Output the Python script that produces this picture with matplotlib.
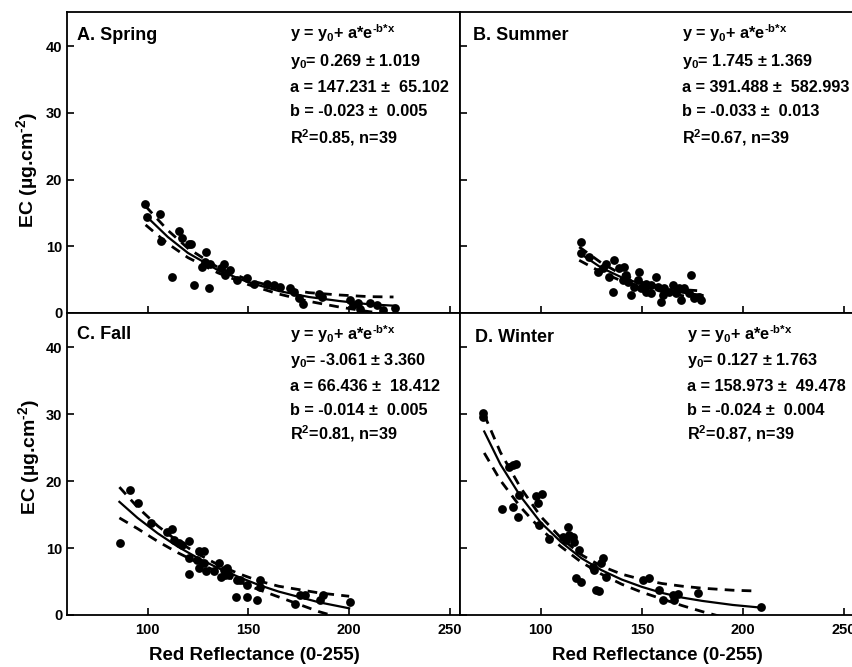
import matplotlib
matplotlib.use('Agg')
import matplotlib.pyplot as plt

plt.rcParams['font.family'] = ['Liberation Sans', 'DejaVu Sans']
plt.rcParams['font.weight'] = 'bold'
plt.rcParams['mathtext.fontset'] = 'custom'
plt.rcParams['mathtext.rm'] = 'Liberation Sans:bold'
plt.rcParams['mathtext.it'] = 'Liberation Sans:bold'
plt.rcParams['mathtext.bf'] = 'Liberation Sans:bold'
plt.rcParams['mathtext.default'] = 'regular'

# ---------------- data ----------------
spring_x = [98.6, 99.6, 106.1, 106.8, 112.3, 115.5, 117.2, 120.5, 121.6, 122.9,
            129.2, 128.7, 127.1, 130.4, 131.2, 137.8, 141.1, 138.6, 144.4, 149.4,
            152.6, 159.2, 162.5, 165.8, 170.8, 172.4, 177.3, 174.9, 185.1, 186.4,
            200.4, 202.1, 205.4, 204.5, 210.3, 213.6, 216.9, 222.7, 136.2]
spring_y = [16.3, 14.4, 14.8, 10.8, 5.4, 12.3, 11.3, 10.4, 10.3, 4.2,
            9.2, 7.7, 6.9, 3.7, 7.3, 7.3, 6.4, 5.7, 4.9, 5.2,
            4.4, 4.3, 4.2, 3.9, 3.7, 3.2, 1.3, 2.2, 2.9, 2.4,
            1.9, 1.2, 0.6, 1.5, 1.5, 1.2, 0.45, 0.7, 6.7]

summer_x = [119.9, 119.9, 124.0, 128.1, 132.3, 136.4, 135.5, 138.9, 141.3, 142.2,
            144.7, 143.0, 148.8, 147.9, 149.6, 152.1, 154.6, 157.0, 157.8, 159.5,
            161.1, 163.6, 165.2, 166.9, 169.4, 171.0, 174.4, 173.5, 176.0, 178.5,
            179.3, 152.1, 146.3, 154.6, 140.5, 130.6, 133.9, 160.3, 168.6]
summer_y = [10.7, 9.0, 8.4, 6.2, 7.4, 7.9, 3.2, 6.7, 6.9, 5.7,
            2.7, 4.7, 6.2, 4.9, 3.7, 4.4, 4.2, 5.4, 3.9, 1.7,
            3.7, 3.2, 4.2, 2.95, 1.95, 3.7, 5.7, 2.95, 2.2, 2.45,
            1.95, 3.2, 3.9, 2.95, 4.9, 6.7, 5.4, 2.7, 3.7]

fall_x = [86.3, 91.1, 95.3, 112.3, 109.8, 117.2, 120.5, 120.5, 120.5, 125.4,
          127.9, 125.4, 129.2, 127.9, 135.3, 136.2, 137.8, 139.5, 140.3, 144.4,
          146.0, 144.1, 149.4, 154.3, 155.6, 149.4, 155.9, 173.2, 175.7, 178.2,
          187.2, 200.4, 101.5, 115.5, 113.1, 124.3, 132.8, 138.3, 185.6]
fall_y = [10.7, 18.7, 16.7, 12.9, 12.4, 10.4, 11.1, 8.5, 6.1, 9.5,
          9.5, 7.0, 6.5, 7.7, 7.7, 5.7, 6.7, 7.0, 6.0, 5.2,
          5.2, 2.7, 2.7, 2.3, 5.2, 4.5, 4.2, 1.6, 3.0, 3.0,
          3.0, 2.0, 13.7, 10.7, 11.2, 8.2, 6.5, 6.0, 2.2]

winter_x = [71.2, 71.5, 84.4, 87.7, 80.8, 86.0, 88.5, 89.4, 97.6, 100.6,
            98.4, 99.3, 103.9, 110.8, 113.3, 112.5, 115.7, 116.6, 119.1, 117.4,
            119.9, 125.6, 130.6, 127.3, 129.0, 132.3, 150.4, 153.7, 158.7, 160.3,
            167.7, 166.1, 177.6, 209.0, 129.8, 126.5, 86.0, 114.1, 165.2]
winter_y = [30.2, 29.6, 22.1, 22.5, 15.9, 16.2, 14.7, 17.9, 17.7, 18.1,
            16.7, 13.4, 11.4, 11.7, 13.1, 11.2, 11.7, 10.9, 9.7, 5.5,
            5.0, 7.2, 8.5, 3.7, 3.6, 5.7, 5.3, 5.6, 3.7, 2.2,
            3.2, 2.2, 3.3, 1.2, 7.7, 6.7, 22.4, 11.9, 3.0]

# fitted curve and 95% confidence bands
spring_fx = [99, 110, 120, 135, 150, 165, 180, 195, 210, 222]
spring_fit = [14.6, 11.4, 9.0, 6.4, 4.6, 3.3, 2.4, 1.8, 1.3, 1.1]
spring_up = [16.0, 12.4, 9.7, 6.8, 4.95, 3.75, 3.05, 2.7, 2.45, 2.4]
spring_lo = [13.2, 10.4, 8.3, 6.0, 4.25, 2.85, 1.75, 0.9, 0.2, -0.2]

summer_fx = [119, 130, 140, 150, 160, 170, 180]
summer_fit = [9.0, 6.77, 5.34, 4.32, 3.58, 3.06, 2.69]
summer_up = [9.9, 7.5, 5.8, 4.6, 3.9, 3.5, 3.3]
summer_lo = [7.9, 6.1, 4.8, 4.0, 3.2, 2.6, 2.1]

fall_fx = [86, 95, 105, 115, 125, 135, 145, 155, 165, 175, 185, 200]
fall_fit = [16.9, 14.5, 12.2, 10.2, 8.5, 7.0, 5.7, 4.5, 3.5, 2.7, 1.9, 1.0]
fall_up = [19.1, 16.1, 13.3, 11.0, 9.1, 7.5, 6.2, 5.1, 4.3, 3.8, 3.3, 2.8]
fall_lo = [14.5, 12.9, 11.0, 9.3, 7.8, 6.4, 5.0, 3.8, 2.7, 1.6, 0.5, -0.8]

winter_fx = [72, 80, 90, 100, 110, 120, 130, 140, 150, 160, 170, 180, 195, 209]
winter_fit = [27.4, 22.5, 17.7, 13.8, 10.9, 8.5, 6.7, 5.3, 4.2, 3.3, 2.6, 2.1, 1.5, 1.1]
winter_bx = [72, 80, 90, 100, 110, 120, 130, 140, 150, 160, 170, 180, 195, 205]
winter_up = [29.9, 24.3, 19.0, 14.7, 11.5, 9.0, 7.3, 6.1, 5.3, 4.7, 4.3, 4.0, 3.7, 3.6]
winter_lo = [24.2, 20.1, 16.1, 12.8, 10.2, 7.9, 6.1, 4.6, 3.4, 2.4, 1.4, 0.5, -0.7, -1.5]

panel_titles = ['A. Spring', 'B. Summer', 'C. Fall', 'D. Winter']
EQ = r'y = y$_{\text{0}}$+ a*e$^{\text{-b*x}}$'
eq_text = {
    'A': [EQ, r'y$_{\text{0}}$= 0.269 ± 1.019', 'a = 147.231 ±  65.102',
          'b = -0.023 ±  0.005', r'R$^{\text{2}}$=0.85, n=39'],
    'B': [EQ, r'y$_{\text{0}}$= 1.745 ± 1.369', 'a = 391.488 ±  582.993',
          'b = -0.033 ±  0.013', r'R$^{\text{2}}$=0.67, n=39'],
    'C': [EQ, r'y$_{\text{0}}$= -3.061 ± 3.360', 'a = 66.436 ±  18.412',
          'b = -0.014 ±  0.005', r'R$^{\text{2}}$=0.81, n=39'],
    'D': [EQ, r'y$_{\text{0}}$= 0.127 ± 1.763', 'a = 158.973 ±  49.478',
          'b = -0.024 ±  0.004', r'R$^{\text{2}}$=0.87, n=39'],
}
x_ticks = [100, 150, 200, 250]
y_ticks = [0, 10, 20, 30, 40]

# ---------------- layout ----------------
W, H = 853, 667
fig = plt.figure(figsize=(W / 100, H / 100), dpi=100)


def rect(x0, y0, x1, y1):
    return [x0 / W, 1 - y1 / H, (x1 - x0) / W, (y1 - y0) / H]


def ftext(x, y, s, **kw):
    fig.text(x / W, 1 - y / H, s, **kw)


panels = [
    ('A', rect(67, 12, 460, 313), spring_x, spring_y, spring_fx, spring_fit,
     spring_fx, spring_up, spring_lo),
    ('B', rect(460, 12, 854, 313), summer_x, summer_y, summer_fx, summer_fit,
     summer_fx, summer_up, summer_lo),
    ('C', rect(67, 313, 460, 615), fall_x, fall_y, fall_fx, fall_fit,
     fall_fx, fall_up, fall_lo),
    ('D', rect(460, 313, 854, 615), winter_x, winter_y, winter_fx, winter_fit,
     winter_bx, winter_up, winter_lo),
]

for key, r, px, py, fx, fy, bx, fu, fl in panels:
    ax = fig.add_axes(r)
    ax.set_xlim(60, 255)
    ax.set_ylim(0, 45.1)
    ax.scatter(px, py, s=40, color='black', zorder=3, linewidths=0)
    ax.plot(fx, fy, color='black', lw=1.6, zorder=4)
    ax.plot(bx, fu, color='black', lw=2.0, dashes=(3.5, 2.6), zorder=4)
    ax.plot(bx, fl, color='black', lw=2.0, dashes=(3.5, 2.6), zorder=4)
    ax.set_xticks(x_ticks)
    ax.set_yticks(y_ticks)
    ax.tick_params(direction='in', length=5, width=1.2, labelsize=10.5,
                   top=False, right=False)
    ax.tick_params(axis='x', pad=6)
    ax.tick_params(axis='y', pad=3.5)
    for lab in ax.get_xticklabels() + ax.get_yticklabels():
        lab.set_fontweight('bold')
    for sp in ax.spines.values():
        sp.set_linewidth(1.3)
    if key in ('A', 'B'):
        ax.tick_params(axis='x', labelbottom=False)
    if key in ('B', 'D'):
        ax.tick_params(axis='y', labelleft=False)
        ax.spines['right'].set_visible(False)

# panel titles
ftext(77, 40, panel_titles[0], fontsize=13, fontweight='bold', va='baseline')
ftext(473, 40, panel_titles[1], fontsize=13, fontweight='bold', va='baseline')
ftext(77, 339, panel_titles[2], fontsize=13, fontweight='bold', va='baseline')
ftext(475, 342, panel_titles[3], fontsize=13, fontweight='bold', va='baseline')

# equations
top_base = [39, 66, 92, 116, 143]
bot_base = [340, 365, 391, 415, 440]
for key, x0, bases in [('A', 290, top_base), ('B', 682, top_base),
                       ('C', 290, bot_base), ('D', 687, bot_base)]:
    for s, b in zip(eq_text[key], bases):
        ftext(x0, b, s, fontsize=11.7, fontweight='bold', va='baseline')

# axis labels
ylab = r'EC (µg.cm$^{\text{-2}}$)'
ftext(27, 170, ylab, fontsize=14, fontweight='bold', rotation=90, ha='center', va='center')
ftext(29, 457, ylab, fontsize=14, fontweight='bold', rotation=90, ha='center', va='center')
ftext(254, 656, 'Red Reflectance (0-255)', fontsize=13.5, fontweight='bold', ha='center', va='center')
ftext(657, 656, 'Red Reflectance (0-255)', fontsize=13.5, fontweight='bold', ha='center', va='center')

fig.savefig('out.png', dpi=100)
